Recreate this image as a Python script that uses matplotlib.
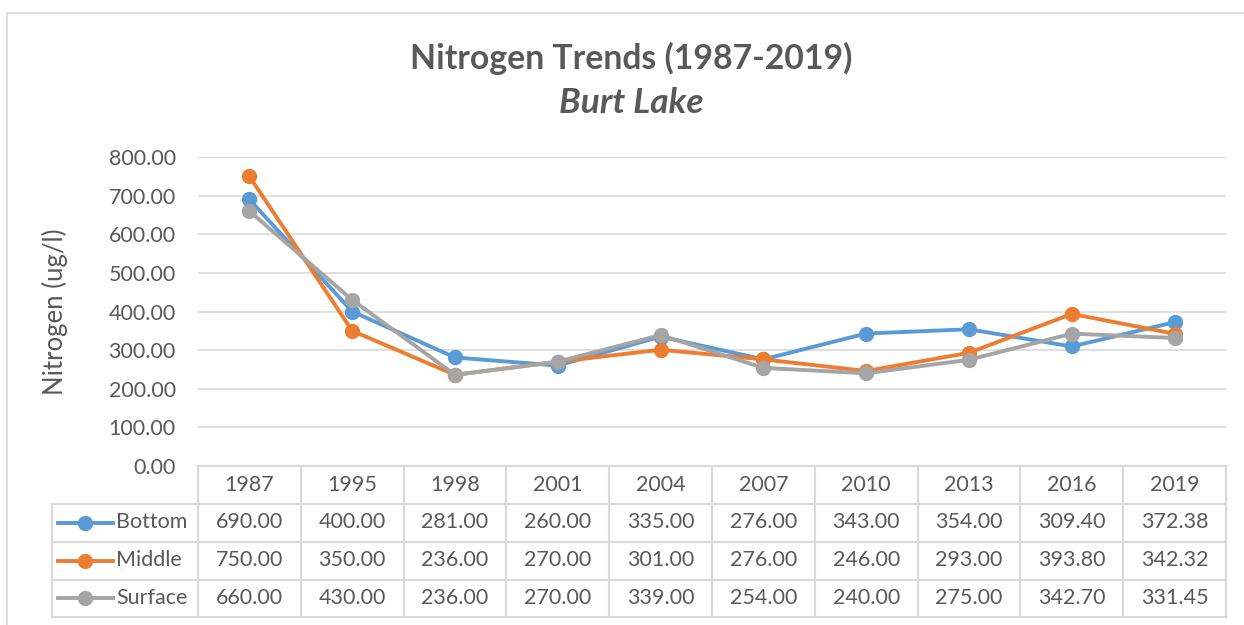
#!/usr/bin/env python
# coding: utf-8

import numpy as np
import matplotlib.pyplot as plt
from matplotlib.lines import Line2D
from matplotlib.patches import Rectangle
import matplotlib.transforms as mtransforms

plt.rcParams['font.family'] = ['Lato', 'DejaVu Sans']

years = ['1987', '1995', '1998', '2001', '2004', '2007', '2010', '2013', '2016', '2019']
bottom = [690.00, 400.00, 281.00, 260.00, 335.00, 276.00, 343.00, 354.00, 309.40, 372.38]
middle = [750.00, 350.00, 236.00, 270.00, 301.00, 276.00, 246.00, 293.00, 393.80, 342.32]
surface = [660.00, 430.00, 236.00, 270.00, 339.00, 254.00, 240.00, 275.00, 342.70, 331.45]
series_names = ['Bottom', 'Middle', 'Surface']
colors = ['#5B9BD5', '#ED7D31', '#A5A5A5']

W, H = 1244, 625
text_col = '#595959'
grid_col = '#D9D9D9'
fs = 15.5

fig = plt.figure(figsize=(W / 100, H / 100), dpi=100)
fig.patch.set_facecolor('white')

# chart border
fig.add_artist(Rectangle((7 / W, -0.01), 1.1, 1 - 13 / H + 0.01, transform=fig.transFigure,
                         fill=False, edgecolor=grid_col, lw=1.2))

# plot area in pixels
x0, x1, ytop, ybot = 198, 1226, 157, 466
ax = fig.add_axes([x0 / W, 1 - ybot / H, (x1 - x0) / W, (ybot - ytop) / H])
x = np.arange(len(years))
ax.set_xlim(-0.5, len(years) - 0.5)
ax.set_ylim(0, 800)
ax.set_yticks(np.arange(0, 801, 100))
ax.set_yticklabels(['%.2f' % v for v in np.arange(0, 801, 100)])
ax.set_xticks([])
ax.tick_params(axis='y', length=0, labelsize=fs, labelcolor=text_col, pad=16)
for s in ax.spines.values():
    s.set_visible(False)
ax.grid(axis='y', color=grid_col, lw=1.2)
ax.set_axisbelow(True)

for vals, c in zip([bottom, middle, surface], colors):
    ax.plot(x, vals, color=c, lw=2.8, marker='o', markersize=10, clip_on=False, zorder=3)

ax.set_ylabel('Nitrogen (ug/l)', fontsize=18.5, color=text_col)
ax.yaxis.set_label_coords((68 - x0) / (x1 - x0), 0.5)

# data table below the plot
trans = mtransforms.blended_transform_factory(ax.transData, ax.transAxes)
ph = ybot - ytop
row_px = [466, 503.5, 541.5, 579.5, 617]
rows = [-(r - ybot) / ph for r in row_px]
px = (x1 - x0) / len(years)
leg_left = -0.5 - (x0 - 52) / px

def hline(xa, xb, y):
    ax.add_line(Line2D([xa, xb], [y, y], transform=trans, color=grid_col, lw=1.5, clip_on=False))

def vline(xv, ya, yb):
    ax.add_line(Line2D([xv, xv], [ya, yb], transform=trans, color=grid_col, lw=1.5, clip_on=False))

hline(-0.5, len(years) - 0.5, rows[0])
for r in rows[1:]:
    hline(leg_left, len(years) - 0.5, r)
for i in range(len(years) + 1):
    vline(i - 0.5, rows[0], rows[-1])
vline(leg_left, rows[1], rows[-1])

for i, yr in enumerate(years):
    ax.text(i, (rows[0] + rows[1]) / 2, yr, transform=trans, ha='center', va='center',
            fontsize=fs, color=text_col)

for j, (name, vals, c) in enumerate(zip(series_names, [bottom, middle, surface], colors)):
    yc = (rows[j + 1] + rows[j + 2]) / 2
    for i, v in enumerate(vals):
        ax.text(i, yc, '%.2f' % v, transform=trans, ha='center', va='center',
                fontsize=fs, color=text_col)
    la = -0.5 - (x0 - 58) / px
    lb = -0.5 - (x0 - 113) / px
    ax.add_line(Line2D([la, lb], [yc, yc], transform=trans, color=c, lw=2.8, clip_on=False))
    ax.add_line(Line2D([(la + lb) / 2], [yc], transform=trans, color=c, marker='o',
                       markersize=10, clip_on=False))
    ax.text(-0.5 - (x0 - 116) / px, yc, name, transform=trans, ha='left', va='center',
            fontsize=fs, color=text_col)

fig.text(631 / W, 1 - 58 / H, 'Nitrogen Trends (1987-2019)', ha='center', va='center',
         fontsize=24.3, fontweight='bold', color=text_col)
fig.text(631 / W, 1 - 103 / H, 'Burt Lake', ha='center', va='center',
         fontsize=25.5, fontweight='bold', fontstyle='italic', color=text_col)

fig.savefig('out.png', dpi=100)
